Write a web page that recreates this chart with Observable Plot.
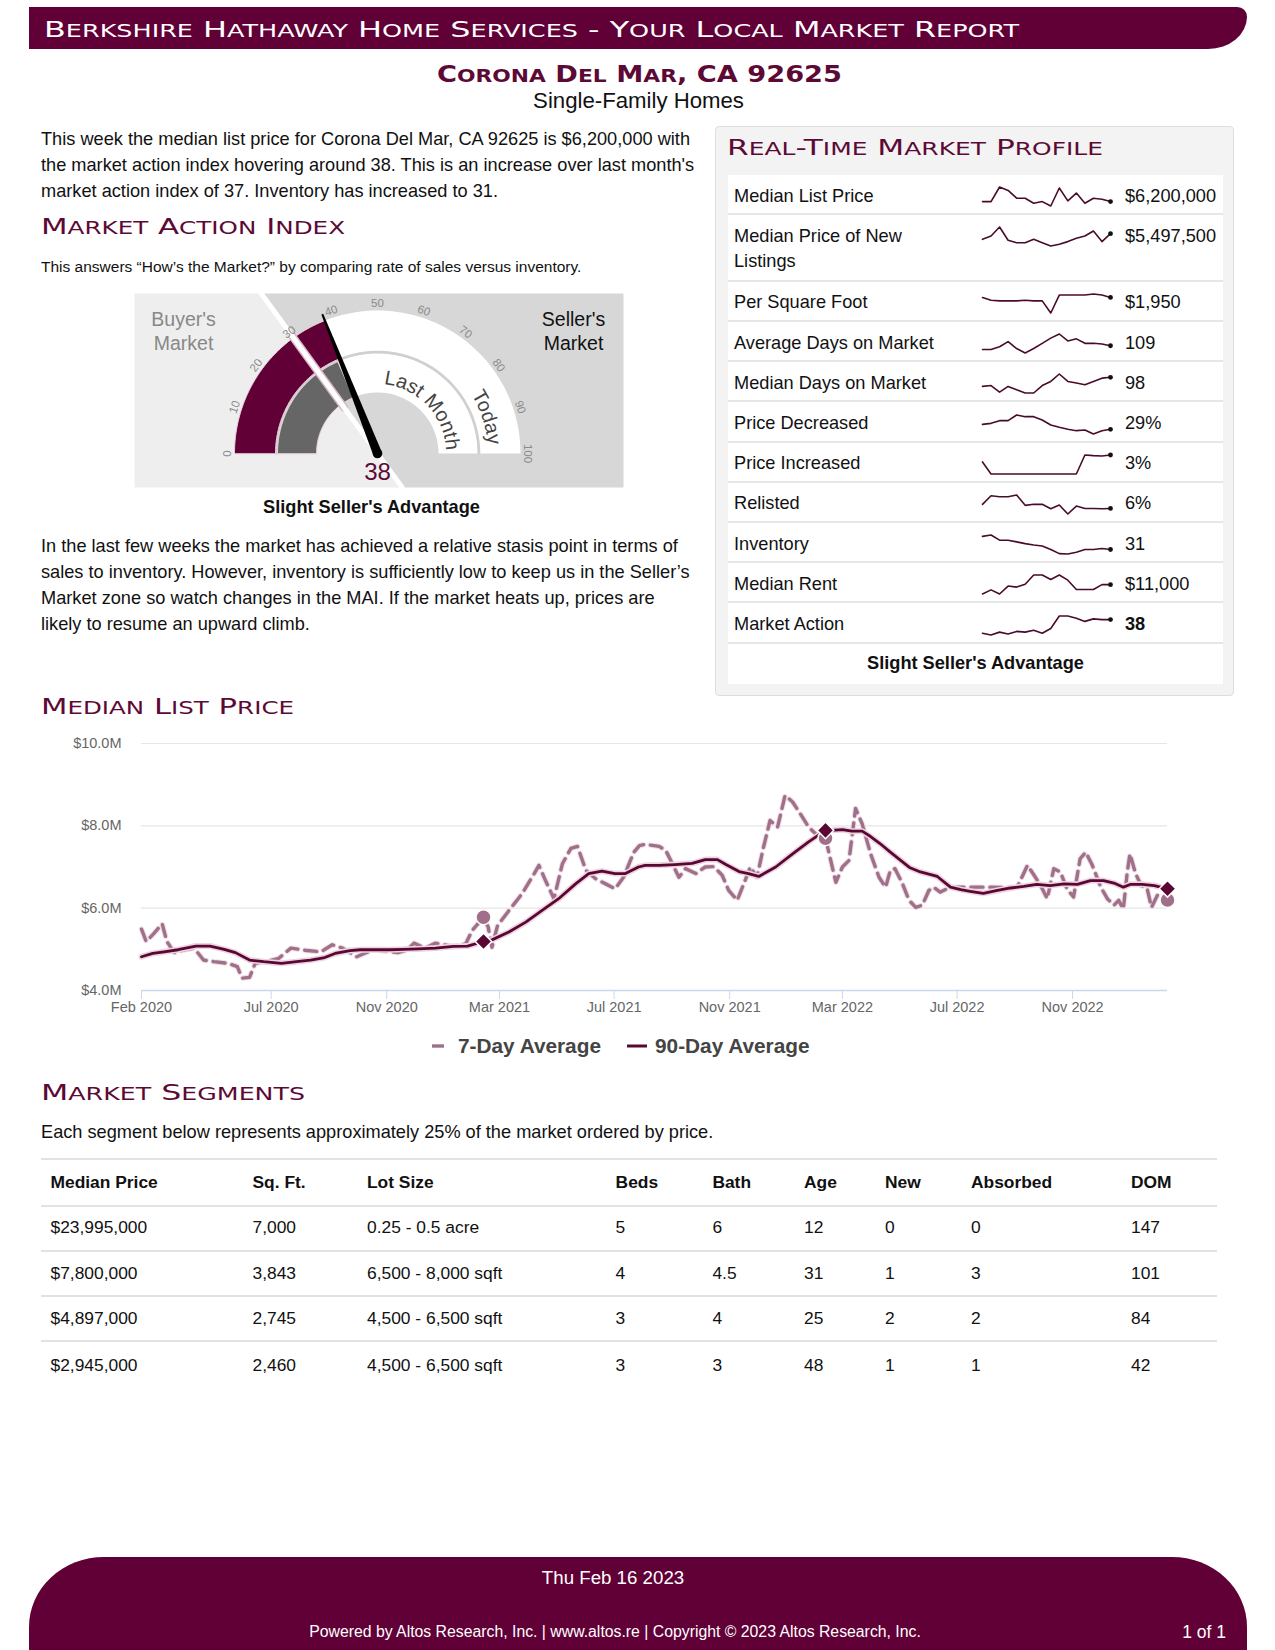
<!DOCTYPE html>
<html><head><meta charset="utf-8">
<script src="https://cdn.jsdelivr.net/npm/d3@7"></script>
<script src="https://cdn.jsdelivr.net/npm/@observablehq/plot@0.6"></script>
<style>
body{margin:0;background:#fff;}
#page{position:relative;width:1275px;height:1650px;overflow:hidden;font-family:"Liberation Sans",Arial,sans-serif;color:#111;}
.abs{position:absolute;white-space:nowrap;}
.sc{font-family:"DejaVu Sans",sans-serif;color:#5c0a35;display:inline-block;transform-origin:0 50%;}
.p18{font-size:18.2px;}
.cell{position:absolute;white-space:nowrap;font-size:18.2px;line-height:20px;}
.tcell{position:absolute;white-space:nowrap;font-size:17.4px;line-height:20px;}
</style></head>
<body><div id="page">
<div class="abs" style="left:29px;top:7px;width:1218px;height:42px;background:#600036;border-radius:0 12px 48px 0 / 0 12px 40px 0;"></div>
<div class="abs sc" data-fit="975" style="left:44px;top:17px;font-size:22px;line-height:26px;color:#fff;">Berkshire Hathaway Home Services - Your Local Market Report</div>
<div class="abs sc" data-fit="405" style="left:437px;top:60px;font-size:23px;line-height:28px;font-weight:bold;">Corona Del Mar, CA 92625</div>
<div class="abs" style="left:0;width:1277px;top:89px;font-size:22.2px;line-height:24px;text-align:center;color:#111;">Single-Family Homes</div>

<div class="abs p18" style="left:41px;top:127px;line-height:25.8px;">This week the median list price for Corona Del Mar, CA 92625 is $6,200,000 with<br>the market action index hovering around 38. This is an increase over last month's<br>market action index of 37. Inventory has increased to 31.</div>
<div class="abs sc" data-fit="304" style="left:41px;top:214px;font-size:21px;line-height:26px;">Market Action Index</div>
<div class="abs" style="left:41px;top:259px;font-size:15.5px;line-height:16px;">This answers “How’s the Market?” by comparing rate of sales versus inventory.</div>
<div id="gauge" class="abs" style="left:134px;top:293px;width:489px;height:194px;"></div>
<div class="abs p18" style="left:171px;width:401px;top:497px;line-height:20px;text-align:center;font-weight:bold;">Slight Seller's Advantage</div>
<div class="abs p18" style="left:41px;top:533px;line-height:26px;">In the last few weeks the market has achieved a relative stasis point in terms of<br>sales to inventory. However, inventory is sufficiently low to keep us in the Seller’s<br>Market zone so watch changes in the MAI. If the market heats up, prices are<br>likely to resume an upward climb.</div>

<div class="abs" style="left:715px;top:126px;width:517px;height:568px;background:#f3f3f3;border:1px solid #dedede;border-radius:4px;"></div>
<div class="abs sc" data-fit="376" style="left:727px;top:135px;font-size:21px;line-height:26px;">Real-Time Market Profile</div>
<div id="profile" class="abs" style="left:728px;top:175px;width:495px;height:509px;background:#fff;"></div>

<div class="abs sc" data-fit="253" style="left:41px;top:694px;font-size:21px;line-height:26px;">Median List Price</div>
<div id="chart" class="abs" style="left:0;top:730px;"></div>
<div id="legend" class="abs" style="left:0;top:1033px;width:1275px;height:26px;font-weight:bold;font-size:20.8px;color:#444;"></div>

<div class="abs sc" data-fit="264" style="left:41px;top:1080px;font-size:21px;line-height:26px;">Market Segments</div>
<div class="abs p18" style="left:41px;top:1122px;line-height:20px;">Each segment below represents approximately 25% of the market ordered by price.</div>
<div id="segments" class="abs" style="left:41px;top:1158px;width:1176px;height:220px;"></div>

<div class="abs" style="left:29px;top:1557px;width:1218px;height:93px;background:#600036;border-radius:75px 75px 0 0 / 70px 70px 0 0;"></div>
<div class="abs" style="left:0;width:1226px;top:1568px;font-size:18.7px;line-height:20px;text-align:center;color:#fff;">Thu Feb 16 2023</div>
<div class="abs" style="left:0;width:1230px;top:1623px;font-size:15.8px;line-height:18px;text-align:center;color:#fff;">Powered by Altos Research, Inc. | www.altos.re | Copyright © 2023 Altos Research, Inc.</div>
<div class="abs" style="left:1100px;width:126px;top:1622px;font-size:17.5px;line-height:20px;text-align:right;color:#fff;">1 of 1</div>
</div>
<script>
// ---------------- DATA ----------------
const gaugeToday = 38;
const gaugeLastMonth = 37;
const gaugeThreshold = 30;
const gaugeTicks = [0, 10, 20, 30, 40, 50, 60, 70, 80, 90, 100];

const profileLabels = ["Median List Price", "Median Price of New|Listings", "Per Square Foot", "Average Days on Market", "Median Days on Market", "Price Decreased", "Price Increased", "Relisted", "Inventory", "Median Rent", "Market Action"];
const profileValues = ["$6,200,000", "$5,497,500", "$1,950", "109", "98", "29%", "3%", "6%", "31", "$11,000", "38"];
const sparkMedianList = [6.20, 6.20, 7.49, 7.19, 6.50, 6.50, 6.05, 6.20, 5.81, 7.40, 6.26, 6.95, 6.05, 6.50, 6.41, 6.20];
const sparkNewListings = [5.07, 5.32, 6.00, 5.00, 4.82, 4.82, 5.07, 4.82, 4.57, 4.70, 4.90, 5.15, 5.32, 5.70, 4.90, 5.50];
const sparkPerSqFt = [1950, 1910, 1900, 1900, 1900, 1910, 1900, 1900, 1725, 1985, 1985, 1985, 1985, 2000, 1985, 1950];
const sparkAvgDom = [98, 98, 106, 121, 101, 88, 101, 116, 131, 143, 123, 129, 116, 116, 114, 109];
const sparkMedDom = [76, 78, 62, 76, 68, 60, 60, 78, 88, 106, 88, 84, 80, 88, 96, 98];
const sparkPriceDec = [33.5, 34.4, 36.8, 36.8, 41.9, 40.4, 40.4, 37.4, 32.9, 30.8, 29, 27.8, 28.4, 24.8, 27.8, 29];
const sparkPriceInc = [1.9, 0, 0, 0, 0, 0, 0, 0, 0, 0, 0, 0, 3, 2.9, 2.85, 3];
const sparkRelisted = [7.2, 9.7, 9.4, 9.4, 9.9, 6.9, 7.2, 7.2, 5.9, 7.0, 4.4, 6.7, 6, 6, 5.9, 6];
const sparkInventory = [42.4, 43.6, 39.1, 39.1, 37.6, 36.1, 34.9, 34, 31, 27.4, 27.1, 28.6, 31, 31, 31.9, 31];
const sparkRent = [8300, 9500, 8300, 10600, 10300, 11100, 13800, 13800, 12500, 13800, 12300, 9600, 9600, 9600, 11000, 11000];
const sparkMarketAction = [28.5, 27.25, 29.25, 28, 29.75, 29.25, 30.5, 28.5, 31.75, 40.5, 40.5, 39, 36.75, 38.5, 38, 38];

// Median list price, $ millions
const sevenDates = ["2020-02-14","2020-02-19","2020-02-27","2020-03-07","2020-03-12","2020-03-20","2020-03-31","2020-04-10","2020-04-20","2020-05-01","2020-05-16","2020-05-26","2020-05-31","2020-06-08","2020-06-14","2020-06-25","2020-07-09","2020-07-22","2020-08-08","2020-08-23","2020-09-04","2020-09-15","2020-09-30","2020-10-08","2020-10-19","2020-11-04","2020-11-13","2020-11-23","2020-11-30","2020-12-12","2020-12-23","2021-01-11","2021-01-24","2021-01-31","2021-02-12","2021-02-17","2021-02-21","2021-02-27","2021-03-11","2021-03-25","2021-04-07","2021-04-12","2021-04-19","2021-04-28","2021-05-07","2021-05-16","2021-05-23","2021-06-01","2021-06-11","2021-06-22","2021-07-02","2021-07-11","2021-07-22","2021-07-28","2021-08-03","2021-08-18","2021-08-25","2021-09-01","2021-09-08","2021-09-15","2021-09-26","2021-10-06","2021-10-15","2021-10-24","2021-10-31","2021-11-09","2021-11-16","2021-11-23","2021-11-30","2021-12-07","2021-12-14","2021-12-22","2021-12-30","2022-01-07","2022-01-15","2022-01-24","2022-02-04","2022-02-11","2022-02-22","2022-03-01","2022-03-08","2022-03-15","2022-03-22","2022-03-31","2022-04-09","2022-04-16","2022-04-21","2022-04-26","2022-05-04","2022-05-11","2022-05-18","2022-05-25","2022-06-01","2022-06-06","2022-06-13","2022-06-24","2022-07-15","2022-08-06","2022-08-20","2022-09-03","2022-09-14","2022-09-21","2022-09-28","2022-10-05","2022-10-12","2022-10-19","2022-10-26","2022-11-02","2022-11-09","2022-11-15","2022-11-22","2022-12-01","2022-12-08","2022-12-15","2022-12-20","2022-12-25","2022-12-29","2023-01-01","2023-01-07","2023-01-13","2023-01-19","2023-01-24","2023-01-31","2023-02-10"];
const sevenValues = [5.49,5.19,5.38,5.62,5.19,4.92,4.99,5.03,4.74,4.70,4.66,4.58,4.30,4.32,4.66,4.70,4.78,5.03,4.97,4.94,5.11,5.03,4.82,4.90,4.99,4.94,4.92,4.99,5.15,5.03,5.15,5.07,5.13,5.46,5.78,5.54,5.05,5.58,5.94,6.35,6.84,7.04,6.67,6.23,7.08,7.45,7.50,6.92,6.72,6.59,6.47,6.75,7.36,7.52,7.55,7.50,7.40,7.08,6.75,6.96,6.84,7.00,7.01,6.80,6.43,6.19,6.59,7.00,6.75,7.48,8.13,7.97,8.74,8.58,8.30,7.97,7.73,7.70,6.63,7.00,7.16,8.42,8.05,7.32,6.75,6.51,6.92,6.96,6.59,6.19,6.02,6.07,6.43,6.51,6.39,6.51,6.51,6.51,6.50,6.51,7.04,6.80,6.55,6.23,6.96,6.88,6.47,6.27,7.20,7.36,7.04,6.51,6.23,6.07,6.19,5.98,6.84,7.32,6.84,6.55,6.51,6.02,6.35,6.20];
const ninetyDates = ["2020-02-14","2020-02-26","2020-03-09","2020-03-24","2020-04-12","2020-04-27","2020-05-12","2020-05-24","2020-06-08","2020-06-23","2020-07-12","2020-07-28","2020-08-12","2020-08-27","2020-09-07","2020-09-23","2020-10-04","2020-10-19","2020-11-04","2020-11-19","2020-12-04","2020-12-23","2021-01-11","2021-01-26","2021-02-12","2021-02-21","2021-03-11","2021-03-29","2021-04-15","2021-05-03","2021-05-21","2021-06-04","2021-06-18","2021-07-02","2021-07-13","2021-07-27","2021-08-03","2021-08-18","2021-09-04","2021-09-22","2021-10-06","2021-10-19","2021-10-28","2021-11-11","2021-11-21","2021-12-02","2021-12-20","2022-01-07","2022-01-24","2022-02-11","2022-02-18","2022-03-01","2022-03-11","2022-03-22","2022-03-31","2022-04-10","2022-04-21","2022-05-02","2022-05-12","2022-05-23","2022-06-10","2022-06-24","2022-07-05","2022-07-15","2022-07-29","2022-08-13","2022-08-27","2022-09-10","2022-09-24","2022-10-08","2022-10-23","2022-11-06","2022-11-20","2022-12-04","2022-12-15","2022-12-25","2023-01-02","2023-01-14","2023-01-27","2023-02-10"];
const ninetyValues = [4.82,4.90,4.94,4.99,5.08,5.08,5.00,4.92,4.74,4.70,4.66,4.70,4.74,4.80,4.90,4.97,4.99,4.99,4.99,5.00,5.01,5.03,5.07,5.08,5.19,5.23,5.42,5.66,5.94,6.23,6.59,6.84,6.90,6.84,6.84,7.00,7.04,7.04,7.06,7.09,7.18,7.18,7.06,6.89,6.84,6.77,7.00,7.32,7.61,7.89,7.89,7.91,7.87,7.87,7.74,7.57,7.36,7.16,6.98,6.88,6.77,6.51,6.45,6.41,6.36,6.43,6.49,6.53,6.58,6.55,6.59,6.58,6.67,6.67,6.61,6.51,6.58,6.58,6.55,6.47];
const markerDates = ["2021-02-12", "2022-02-11", "2023-02-10"];
const xTickDates = ["2020-02-14","2020-07-01","2020-11-01","2021-03-01","2021-07-01","2021-11-01","2022-03-01","2022-07-01","2022-11-01"];
const yTicks = [4, 6, 8, 10];
const legendLabels = ["7-Day Average", "90-Day Average"];

const segHeaders = ["Median Price", "Sq. Ft.", "Lot Size", "Beds", "Bath", "Age", "New", "Absorbed", "DOM"];
const segMedianPrice = ["$23,995,000", "$7,800,000", "$4,897,000", "$2,945,000"];
const segSqFt = ["7,000", "3,843", "2,745", "2,460"];
const segLotSize = ["0.25 - 0.5 acre", "6,500 - 8,000 sqft", "4,500 - 6,500 sqft", "4,500 - 6,500 sqft"];
const segBeds = ["5", "4", "3", "3"];
const segBath = ["6", "4.5", "4", "3"];
const segAge = ["12", "31", "25", "48"];
const segNew = ["0", "1", "2", "1"];
const segAbsorbed = ["0", "3", "2", "1"];
const segDom = ["147", "101", "84", "42"];

// ---------------- COLORS ----------------
const MAROON = "#600036", MAUVE = "#a0708a";

// ---------------- GAUGE ----------------
(function(){
  const W = 489, H = 194, left = 243, top = 160;
  const polar = (r, v) => { const a = Math.PI * (1 - v / 100); return {x: r * Math.cos(a), y: r * Math.sin(a)}; };
  const band = (r0, r1, v0, v1) => {
    const pts = [], n = 90;
    for (let i = 0; i <= n; i++) pts.push(polar(r1, v0 + (v1 - v0) * i / n));
    for (let i = n; i >= 0; i--) pts.push(polar(r0, v0 + (v1 - v0) * i / n));
    return pts;
  };
  const arc = (r, v0, v1) => d3.range(0, 91).map(i => polar(r, v0 + (v1 - v0) * i / 90));
  const dir = polar(1, gaugeThreshold);
  const topX = top * dir.x / dir.y, botX = (top - H) * dir.x / dir.y;
  const leftBg = [{x: -left, y: top}, {x: topX, y: top}, {x: botX, y: top - H}, {x: -left, y: top - H}];
  const rightBg = [{x: topX, y: top}, {x: W - left, y: top}, {x: W - left, y: top - H}, {x: botX, y: top - H}];
  const divider = [{x: topX, y: top}, {x: botX, y: top - H}];
  const dividerBand = [polar(57, gaugeThreshold), polar(146, gaugeThreshold)];
  const tip = polar(150, gaugeToday), ang = Math.PI * (1 - gaugeToday / 100);
  const px = -Math.sin(ang), py = Math.cos(ang);
  const needle = [{x: 4.5 * px, y: 4.5 * py}, {x: tip.x + 1 * px, y: tip.y + 1 * py}, {x: tip.x - 1 * px, y: tip.y - 1 * py}, {x: -4.5 * px, y: -4.5 * py}];
  const poly = (data, fill, extra = {}) => Plot.line(data, {x: "x", y: "y", fill, stroke: "none", curve: "linear-closed", ...extra});
  const g = Plot.plot({
    width: W, height: H, margin: 0,
    x: {domain: [-left, W - left], range: [0, W], axis: null},
    y: {domain: [top - H, top], range: [H, 0], axis: null},
    style: {fontFamily: "Liberation Sans, Arial, sans-serif", background: "transparent", overflow: "visible"},
    marks: [
      poly(leftBg, "#eeeeee"),
      poly(rightBg, "#d7d7d7"),
      poly(band(102, 143, 0, 100), "#ffffff"),
      poly(band(61, 100, 0, 100), "#ffffff"),
      Plot.line(arc(101.5, 0, 100), {x: "x", y: "y", stroke: "#d0d0d0", strokeWidth: 2.5}),
      poly(band(102, 143, 0, gaugeToday), MAROON, {stroke: "#ecd3df", strokeWidth: 1}),
      poly(band(61, 100, 0, gaugeLastMonth), "#666666", {stroke: "#ecd3df", strokeWidth: 1}),
      Plot.line(dividerBand, {x: "x", y: "y", stroke: "#dcb6c9", strokeWidth: 8}),
      Plot.line(divider, {x: "x", y: "y", stroke: "#ffffff", strokeWidth: 5}),
      Plot.text(gaugeTicks, {x: v => polar(150, v).x, y: v => polar(150, v).y, text: v => String(v), rotate: v => (v - 50) * 1.8, fontSize: 11.5, fill: "#8a8a8a"}),
      poly(needle, "#000000"),
      Plot.dot([{x: 0, y: 0}], {x: "x", y: "y", r: 4.8, fill: "#000"}),
      Plot.text([gaugeToday], {x: 0, y: -19, text: d => String(d), fontSize: 24, fill: "#5c0a35"}),
      Plot.text(["Buyer's\nMarket"], {x: -194, y: 123, text: d => d, fontSize: 19.5, fill: "#888", lineHeight: 1.22}),
      Plot.text(["Seller's\nMarket"], {x: 196, y: 123, text: d => d, fontSize: 19.5, fill: "#111", lineHeight: 1.22})
    ]
  });
  const sx = g.scale("x"), sy = g.scale("y");
  const cx = sx.apply(0), cy = sy.apply(0);
  const svg = d3.select(g);
  const defs = svg.append("defs");
  const arcPath = (r, v0, v1) => { const p0 = polar(r, v0), p1 = polar(r, v1); return `M${cx + p0.x},${cy - p0.y} A${r},${r} 0 0 1 ${cx + p1.x},${cy - p1.y}`; };
  [["lmPath", 69, 40, 112, "Last Month"], ["tdPath", 111, 70, 110, "Today"]].forEach(([id, r, v0, v1, label]) => {
    defs.append("path").attr("id", id).attr("d", arcPath(r, v0, v1));
    svg.append("text").attr("font-size", 20).attr("fill", "#444").attr("font-family", "Liberation Sans, Arial, sans-serif")
      .append("textPath").attr("href", "#" + id).attr("startOffset", "50%").attr("text-anchor", "middle").text(label);
  });
  document.getElementById("gauge").appendChild(g);
})();

// ---------------- PROFILE ----------------
(function(){
  const host = document.getElementById("profile");
  const series = [sparkMedianList, sparkNewListings, sparkPerSqFt, sparkAvgDom, sparkMedDom, sparkPriceDec, sparkPriceInc, sparkRelisted, sparkInventory, sparkRent, sparkMarketAction];
  let y = 0;
  profileLabels.forEach((lab, i) => {
    const two = lab.includes("|");
    const h = two ? 66.7 : 40.2;
    const row = document.createElement("div");
    row.style.cssText = `position:absolute;left:0;top:${y}px;width:495px;height:${h - 2}px;border-bottom:2px solid #e6e6e6;`;
    const first = 21;
    const l = document.createElement("div");
    l.className = "cell";
    l.style.cssText += `left:6px;top:${first - 12.5}px;line-height:25px;`;
    l.innerHTML = lab.replace("|", "<br>");
    row.appendChild(l);
    const v = document.createElement("div");
    v.className = "cell";
    v.style.cssText += `left:397px;top:${first - 12.5}px;line-height:25px;` + (i === profileLabels.length - 1 ? "font-weight:bold;" : "");
    v.textContent = profileValues[i];
    row.appendChild(v);
    const vals = series[i];
    const sp = Plot.plot({
      width: 140, height: 24, marginLeft: 6, marginRight: 6, marginTop: 2.5, marginBottom: 2.5,
      x: {domain: [0, vals.length - 1], axis: null},
      y: {domain: d3.extent(vals), axis: null},
      style: {background: "transparent", overflow: "visible"},
      marks: [
        Plot.line(vals, {x: (d, j) => j, y: d => d, stroke: "#4a0b2b", strokeWidth: 1.6}),
        Plot.dot([vals[vals.length - 1]], {x: () => vals.length - 1, y: d => d, r: 2.4, fill: "#111"})
      ]
    });
    sp.style.position = "absolute";
    sp.style.left = "248px";
    sp.style.top = (first - 12) + "px";
    row.appendChild(sp);
    host.appendChild(row);
    y += h;
  });
  const adv = document.createElement("div");
  adv.className = "cell";
  adv.style.cssText += `left:0;width:495px;text-align:center;top:${y + 9}px;font-weight:bold;`;
  adv.textContent = "Slight Seller's Advantage";
  host.appendChild(adv);
})();

// ---------------- MAIN CHART ----------------
(function(){
  const parse = d3.utcParse("%Y-%m-%d");
  const seven = sevenDates.map((d, i) => ({date: parse(d), value: sevenValues[i]}));
  const ninety = ninetyDates.map((d, i) => ({date: parse(d), value: ninetyValues[i]}));
  const mk = new Set(markerDates);
  const sevenM = seven.filter((d, i) => mk.has(sevenDates[i]));
  const ninetyM = ninety.filter((d, i) => mk.has(ninetyDates[i]));
  const chart = Plot.plot({
    width: 1200, height: 290, marginLeft: 141, marginRight: 33, marginTop: 13, marginBottom: 30,
    x: {type: "utc", domain: [parse(sevenDates[0]), parse(sevenDates[sevenDates.length - 1])], label: null},
    y: {domain: [4, 10], label: null},
    style: {fontFamily: "Liberation Sans, Arial, sans-serif", fontSize: "14.5px", background: "transparent", overflow: "visible"},
    marks: [
      Plot.ruleY(yTicks.slice(1), {stroke: "#e6e6e6", strokeWidth: 1.2}),
      Plot.ruleY([yTicks[0]], {stroke: "#ccd6eb", strokeWidth: 1.5}),
      Plot.axisY(yTicks, {tickSize: 0, tickPadding: 20, tickFormat: d => "$" + d.toFixed(1) + "M", color: "#666", fontSize: 14.5}),
      Plot.axisX(xTickDates.map(parse), {tickSize: 9, tickPadding: 2, tickFormat: d3.utcFormat("%b %Y"), stroke: "#ccd6eb", fill: "#666", fontSize: 14.5}),
      Plot.line(seven, {x: "date", y: "value", stroke: "#efdfe7", strokeWidth: 5.5, strokeDasharray: "12,7"}),
      Plot.line(seven, {x: "date", y: "value", stroke: MAUVE, strokeWidth: 3.4, strokeDasharray: "12,7"}),
      Plot.line(ninety, {x: "date", y: "value", stroke: "#ecd4e0", strokeWidth: 6}),
      Plot.line(ninety, {x: "date", y: "value", stroke: "#5a0733", strokeWidth: 2.8}),
      Plot.dot(sevenM, {x: "date", y: "value", r: 7.5, fill: MAUVE, stroke: "#fff", strokeWidth: 1.5}),
      Plot.dot(ninetyM, {x: "date", y: "value", r: 7.5, symbol: "diamond2", fill: "#5a0733", stroke: "#fff", strokeWidth: 1.5})
    ]
  });
  document.getElementById("chart").appendChild(chart);

  const lg = document.getElementById("legend");
  lg.innerHTML =
    `<svg style="position:absolute;left:431px;top:7px" width="18" height="12"><line x1="1" x2="17" y1="6" y2="6" stroke="${MAUVE}" stroke-width="3.4" stroke-dasharray="12,7"/></svg>` +
    `<span style="position:absolute;left:458px;top:0;line-height:26px">${legendLabels[0]}</span>` +
    `<svg style="position:absolute;left:627px;top:7px" width="20" height="12"><line x1="0" x2="20" y1="6" y2="6" stroke="#5a0733" stroke-width="3"/></svg>` +
    `<span style="position:absolute;left:655px;top:0;line-height:26px">${legendLabels[1]}</span>`;
})();

// ---------------- SEGMENTS ----------------
(function(){
  const host = document.getElementById("segments");
  const colX = [9.5, 211.5, 326, 574.6, 671.4, 763, 844, 930, 1090];
  const cols = [segMedianPrice, segSqFt, segLotSize, segBeds, segBath, segAge, segNew, segAbsorbed, segDom];
  const lines = [0, 46.5, 91.5, 136.5, 182];
  lines.forEach(t => { const d = document.createElement("div"); d.style.cssText = `position:absolute;left:0;top:${t}px;width:1176px;height:2px;background:#e2e2e2;`; host.appendChild(d); });
  const rowsY = [24, 69, 114.5, 160, 207];
  segHeaders.forEach((h, j) => { const d = document.createElement("div"); d.className = "tcell"; d.style.cssText += `left:${colX[j]}px;top:${rowsY[0] - 10}px;font-weight:bold;`; d.textContent = h; host.appendChild(d); });
  for (let i = 0; i < 4; i++) cols.forEach((c, j) => { const d = document.createElement("div"); d.className = "tcell"; d.style.cssText += `left:${colX[j]}px;top:${rowsY[i + 1] - 10}px;`; d.textContent = c[i]; host.appendChild(d); });
})();

// ---------------- SMALL CAPS + FIT HEADINGS ----------------
document.querySelectorAll(".sc").forEach(el => {
  el.innerHTML = el.textContent.replace(/([a-z]+)/g, '<span style="font-size:0.8em;text-transform:uppercase">$1</span>');
});
document.querySelectorAll("[data-fit]").forEach(el => {
  const w = +el.dataset.fit; const cur = el.getBoundingClientRect().width;
  if (cur > 0) el.style.transform = `scaleX(${w / cur})`;
});
</script>
</body></html>
